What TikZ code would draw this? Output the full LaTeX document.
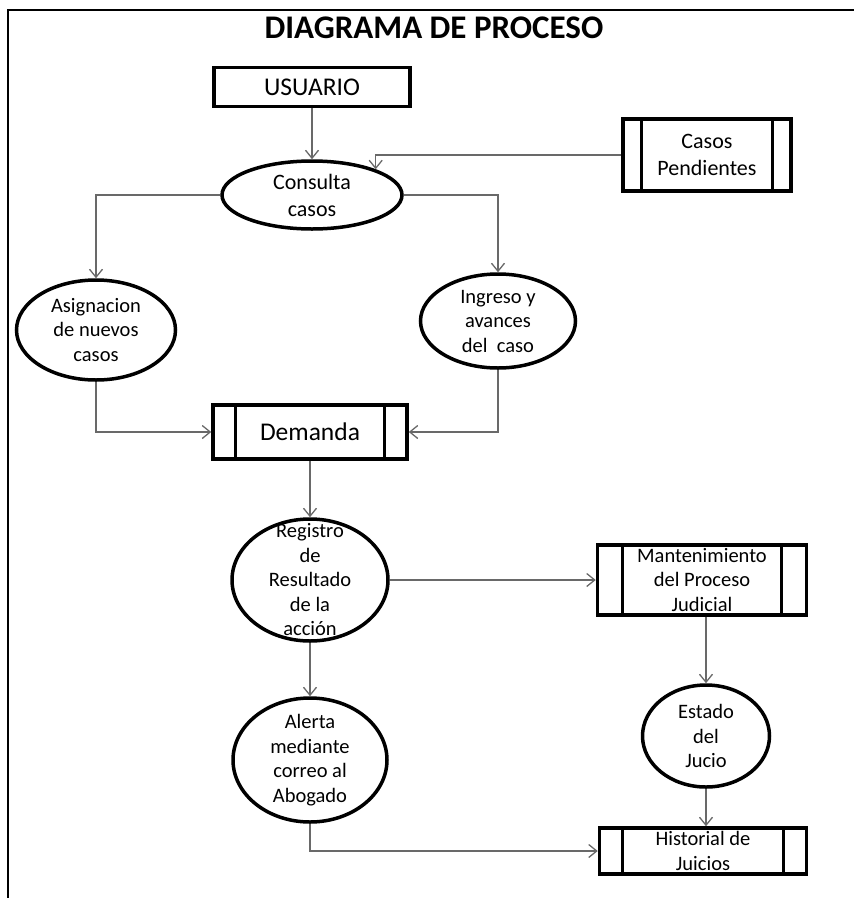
\documentclass[tikz,border=0pt]{standalone}
\usepackage{fontspec}
\setmainfont{Carlito}
\usetikzlibrary{arrows.meta, shapes.geometric}
\definecolor{linegray}{RGB}{105,105,105}
\tikzset{
  box/.style={
    draw,
    line width=3.5pt,
    inner sep=0pt,
    align=center,
    font=\fontsize{25.5}{30}\selectfont
  },
  store/.style={
    draw,
    line width=3.5pt,
    inner sep=0pt,
    align=center,
    font=\fontsize{20.5}{24.5}\selectfont
  },
  bubble/.style={
    ellipse,
    draw,
    line width=3.5pt,
    inner sep=-25pt,
    align=center,
    font=\fontsize{20.5}{24.5}\selectfont
  },
  bar/.style={line width=3pt},
  frame/.style={line width=2pt},
  arrow/.style={-{Straight Barb[length=8pt, width=13pt]}, draw=linegray, line width=1.3pt}
}
\begin{document}
\begin{tikzpicture}[x=1pt, y=-1pt]
\useasboundingbox (0,0) rectangle (854,898);
\draw[frame] (8,898) |- (854,10);

\node[font=\bfseries\fontsize{33}{38}\selectfont] (title) at (434,28) {DIAGRAMA DE PROCESO};

\node[box, minimum width=196, minimum height=39] (usr) at (312,87) {USUARIO};
\node[bubble, minimum width=180, minimum height=68, font=\fontsize{22}{27}\selectfont] (cons) at (312,195) {Consulta\\casos};
\node[store, minimum width=168, minimum height=72, font=\fontsize{22}{27}\selectfont] (cp) at (707,155) {Casos\\Pendientes};
\node[bubble, minimum width=159, minimum height=100] (asig) at (96,330) {Asignacion\\de nuevos\\casos};
\node[bubble, minimum width=155, minimum height=94] (ing) at (498,321) {Ingreso y\\avances\\del\ \ caso};
\node[box, minimum width=194, minimum height=54] (dem) at (310,432) {Demanda};
\node[bubble, minimum width=156, minimum height=122] (reg) at (310,580) {Registro\\de\\Resultado\\de la\\acción};
\node[store, minimum width=209, minimum height=70] (mant) at (702,580) {Mantenimiento\\del Proceso\\Judicial};
\node[bubble, minimum width=154, minimum height=124] (ale) at (310,760) {Alerta\\mediante\\correo al\\Abogado};
\node[bubble, minimum width=127, minimum height=102] (est) at (706,736) {Estado\\del\\Jucio};
\node[store, minimum width=207, minimum height=46] (hist) at (703,851) {Historial de\\Juicios};

\foreach \n/\d in {cp/20, dem/24, mant/27, hist/25} {
  \draw[bar] ([xshift=\d pt]\n.north west) -- ([xshift=\d pt]\n.south west);
  \draw[bar] ([xshift=-\d pt]\n.north east) -- ([xshift=-\d pt]\n.south east);
}

\draw[arrow] (usr) -- (cons);
\draw[arrow] (cp.west) -| (cons.22);
\draw[arrow] (cons.west) -| (asig.north);
\draw[arrow] (cons.east) -| (ing.north);
\draw[arrow] (asig.south) |- (dem.west);
\draw[arrow] (ing.south) |- (dem.east);
\draw[arrow] (dem) -- (reg);
\draw[arrow] (reg.east) -- (reg.east -| mant.west);
\draw[arrow] (reg) -- (ale);
\draw[arrow] (mant.south -| est.north) -- (est.north);
\draw[arrow] (est.south) -- (est.south |- hist.north);
\draw[arrow] (ale.south) |- (hist.west);
\end{tikzpicture}
\end{document}
